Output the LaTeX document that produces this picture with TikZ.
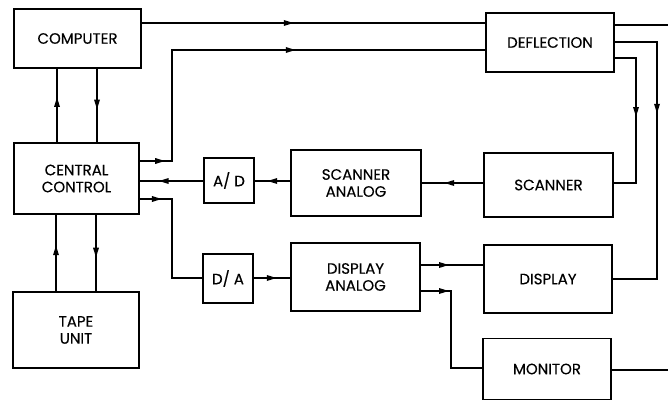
\documentclass[tikz,border=0pt]{standalone}
\usepackage{fontspec}
\setmainfont{Poppins}
\newfontfamily\boxfont{Poppins}[FakeBold=0.3]
\usetikzlibrary{shapes.geometric}
\tikzset{
  box/.style={draw, line width=1.2pt, rectangle, inner sep=0pt, align=center,
    font=\boxfont\fontsize{15}{17}\selectfont},
  wire/.style={line width=1.2pt},
  tip/.style={isosceles triangle, isosceles triangle stretches, fill=black,
    draw=none, inner sep=0pt, minimum width=6pt, minimum height=9.5pt,
    sloped, allow upside down, anchor=center, pos=#1}
}
\begin{document}
\begin{tikzpicture}[x=1pt,y=-1pt]
\useasboundingbox (0,0) rectangle (668,401);
\node[box, minimum width=127pt, minimum height=59pt] (comp) at (77.5,38.5) {COMPUTER};
\node[box, minimum width=128pt, minimum height=59pt] (defl) at (550,42.5) {DEFLECTION};
\node[box, minimum width=125pt, minimum height=71pt] (cc) at (76.5,178.5) {CENTRAL\\CONTROL};
\node[box, minimum width=50pt, minimum height=45pt] (ad) at (229,180.5) {A/ D};
\node[box, minimum width=130pt, minimum height=66pt] (sa) at (356,183) {SCANNER\\ANALOG};
\node[box, minimum width=129pt, minimum height=64pt] (scan) at (548.5,185) {SCANNER};
\node[box, minimum width=50pt, minimum height=49pt] (da) at (228,278.5) {D/ A};
\node[box, minimum width=129pt, minimum height=68pt] (dan) at (355.5,277) {DISPLAY\\ANALOG};
\node[box, minimum width=128pt, minimum height=68pt] (disp) at (548,279) {DISPLAY};
\node[box, minimum width=128pt, minimum height=61pt] (mon) at (547,369) {MONITOR};
\node[box, minimum width=126pt, minimum height=76pt] (tape) at (76,330) {TAPE\\UNIT};

\coordinate (defout) at (668,25);
\coordinate (monout) at (668,370);

% computer -> deflection
\draw[wire] (comp.east |- 0,23) -- node[tip=0.42]{} (defl.west |- 0,23);
% central control -> deflection
\draw[wire] (cc.east |- 0,161) -- node[tip=0.55]{} (172,161) -- (172,50) -- node[tip=0.37]{} (defl.west |- 0,50);
% A/D -> central control
\draw[wire] (ad.west |- 0,181) -- node[tip=0.58]{} (cc.east |- 0,181);
% scanner analog -> A/D
\draw[wire] (sa.west |- 0,181) -- node[tip=0.43]{} (ad.east |- 0,181);
% scanner -> scanner analog
\draw[wire] (scan.west |- 0,183) -- node[tip=0.51]{} (sa.east |- 0,183);
% deflection -> scanner
\draw[wire] (defl.east |- 0,58) -- (636,58) -- node[tip=0.41]{} (636,183) -- (scan.east |- 0,183);
% deflection -> display
\draw[wire] (defl.east |- 0,42) -- (657,42) -- node[tip=0.27]{} (657,279) -- (disp.east |- 0,279);
% deflection out
\draw[wire] (defl.east |- defout) -- (defout);
% central control -> D/A
\draw[wire] (cc.east |- 0,199) -- node[tip=0.45]{} (172,199) -- (172,278) -- (da.west |- 0,278);
% D/A -> display analog
\draw[wire] (da.east |- 0,278) -- node[tip=0.42]{} (dan.west |- 0,278);
% display analog -> display
\draw[wire] (dan.east |- 0,265) -- node[tip=0.33]{} (disp.west |- 0,265);
% display analog -> monitor
\draw[wire] (dan.east |- 0,291) -- node[tip=0.68]{} (451,291) -- (451,368) -- (mon.west |- 0,368);
% monitor out
\draw[wire] (mon.east |- monout) -- (monout);
% central control <-> computer
\draw[wire] (cc.north -| 57,0) -- node[tip=0.51]{} (comp.south -| 57,0);
\draw[wire] (comp.south -| 97,0) -- node[tip=0.45]{} (cc.north -| 97,0);
% tape <-> central control
\draw[wire] (tape.north -| 56,0) -- node[tip=0.5]{} (cc.south -| 56,0);
\draw[wire] (cc.south -| 96,0) -- node[tip=0.46]{} (tape.north -| 96,0);
\end{tikzpicture}
\end{document}
